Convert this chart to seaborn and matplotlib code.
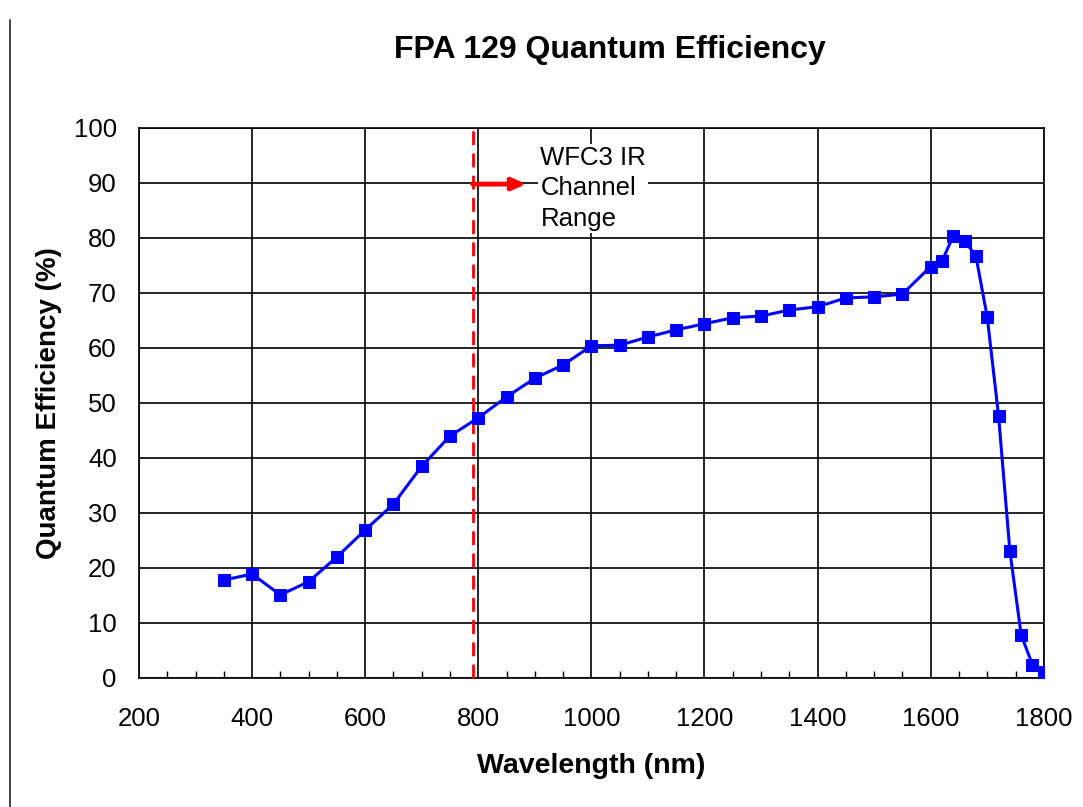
import matplotlib
matplotlib.use("Agg")
import matplotlib.pyplot as plt
import seaborn as sns
import pandas as pd
from matplotlib.ticker import MultipleLocator
from matplotlib.lines import Line2D

wavelength = [350, 400, 450, 500, 550, 600, 650, 700, 750, 800, 850, 900, 950,
              1000, 1050, 1100, 1150, 1200, 1250, 1300, 1350, 1400, 1450, 1500,
              1550, 1600, 1620, 1640, 1660, 1680, 1700, 1720, 1740, 1760, 1780, 1800]
qe = [17.8, 18.9, 15.1, 17.5, 22.0, 26.9, 31.6, 38.5, 44.0, 47.3, 51.1, 54.5, 56.9,
      60.4, 60.5, 62.0, 63.3, 64.4, 65.5, 65.8, 66.9, 67.5, 69.1, 69.3,
      69.8, 74.8, 75.8, 80.4, 79.5, 76.7, 65.6, 47.7, 23.1, 7.8, 2.4, 1.1]
x_ticks = [200, 400, 600, 800, 1000, 1200, 1400, 1600, 1800]
y_ticks = [0, 10, 20, 30, 40, 50, 60, 70, 80, 90, 100]
cutoff_nm = 790
title = "FPA 129 Quantum Efficiency"
xlabel = "Wavelength (nm)"
ylabel = "Quantum Efficiency (%)"
annot = "WFC3 IR\nChannel\nRange"

df = pd.DataFrame({"wavelength": wavelength, "qe": qe})

sns.set_style("white")
plt.rcParams["font.family"] = ["Liberation Sans", "DejaVu Sans"]
plt.rcParams["text.color"] = "black"
plt.rcParams["axes.labelcolor"] = "black"
plt.rcParams["xtick.color"] = "black"
plt.rcParams["ytick.color"] = "black"

fig = plt.figure(figsize=(10.83, 8.07), dpi=100)
ax = fig.add_axes([0.1283, 0.1599, 0.8355, 0.6815])

ax.set_xlim(200, 1800)
ax.set_ylim(0, 100)
ax.set_xticks(x_ticks)
ax.set_yticks(y_ticks)
ax.xaxis.set_minor_locator(MultipleLocator(50))
ax.grid(True, which="major", color="black", linewidth=1.2, zorder=0)
ax.set_axisbelow(True)
for s in ax.spines.values():
    s.set_color("black")
    s.set_linewidth(1.2)
ax.tick_params(axis="both", which="major", labelsize=18.5, length=0, colors="black")
ax.tick_params(axis="y", which="major", pad=16)
ax.tick_params(axis="x", which="major", pad=21)
ax.tick_params(axis="x", which="minor", direction="in", length=5, width=1, color="black", bottom=True)

# annotation text with white background
ax.text(910, 89.0, annot, fontsize=18.5, ha="left", va="center", linespacing=1.32,
        color="black", bbox=dict(facecolor="white", edgecolor="none", pad=1.5), zorder=2)

# red dashed cutoff line
ax.axvline(cutoff_nm, color="red", linestyle=(0, (5, 3)), linewidth=2, zorder=3)
ax.annotate("", xy=(885, 89.8), xytext=(cutoff_nm, 89.8),
            arrowprops=dict(arrowstyle="-|>,head_length=0.8,head_width=0.35", color="red", lw=3.5,
                            shrinkA=0, shrinkB=0), zorder=3)

sns.lineplot(data=df, x="wavelength", y="qe", ax=ax, color="#0000ff", linewidth=2.2,
             marker="s", markersize=8.5, markeredgecolor="#0000ff", zorder=4)

fig.text(610 / 1083, 1 - 50 / 807, title, fontsize=23, fontweight="bold",
         ha="center", va="center", color="black")
ax.set_xlabel(xlabel, fontsize=20.5, fontweight="bold", labelpad=16)
ax.set_ylabel(ylabel, fontsize=20, fontweight="bold", labelpad=8)

# left border line of the original page
fig.add_artist(Line2D([0.0092, 0.0092], [0, 0.975], color="#333333", linewidth=1.3))

fig.savefig("out.png", dpi=100)
